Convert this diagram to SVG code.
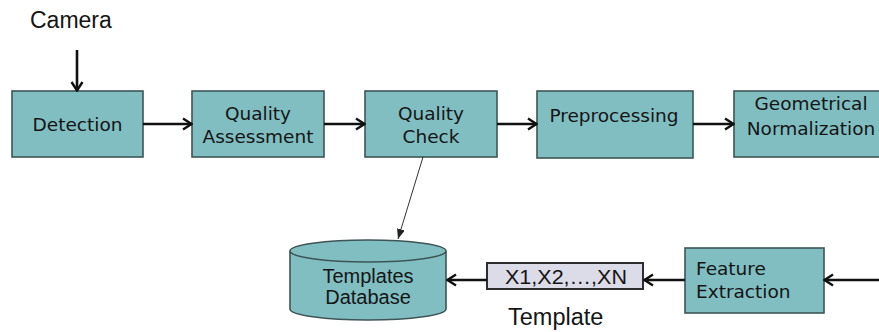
<svg xmlns="http://www.w3.org/2000/svg" width="879" height="332" viewBox="0 0 879 332">
  <defs>
    <style>
      .box { fill: #80bec2; stroke: #3e5556; stroke-width: 1.6; }
      .lbl { font-family: "DejaVu Sans", Verdana, sans-serif; font-size: 18.5px; fill: #151515; text-anchor: middle; }
      .lbl-l { font-family: "DejaVu Sans", Verdana, sans-serif; font-size: 18.5px; fill: #151515; }
      .ar { font-family: "Liberation Sans", Arial, sans-serif; fill: #151515; }
      .flow { fill: none; stroke: #111; stroke-width: 2.6; marker-end: url(#chev); }
      .thin { fill: none; stroke: #333; stroke-width: 1; marker-end: url(#tip); }
    </style>
    <marker id="chev" viewBox="0 0 12 14" refX="11" refY="7" markerWidth="12" markerHeight="14" markerUnits="userSpaceOnUse" orient="auto">
      <path d="M2,1.5 L10.5,7 L2,12.5" fill="none" stroke="#111" stroke-width="2.4" stroke-linejoin="miter"/>
    </marker>
    <marker id="tip" viewBox="0 0 10 8" refX="10" refY="4" markerWidth="10" markerHeight="8" markerUnits="userSpaceOnUse" orient="auto">
      <path d="M0,0 L10,4 L0,8 Z" fill="#222"/>
    </marker>
  </defs>

  <rect width="879" height="332" fill="#ffffff"/>

  <text class="ar" x="30" y="28" font-size="23">Camera</text>
  <text class="ar" x="508" y="325" font-size="23.5">Template</text>

  <g id="detection">
    <rect class="box" x="12" y="91" width="131" height="66"/>
    <text class="lbl" x="77.5" y="131">Detection</text>
  </g>
  <g id="quality-assessment">
    <rect class="box" x="192" y="91" width="132" height="66"/>
    <text class="lbl" x="258" y="120">Quality</text>
    <text class="lbl" x="258" y="143">Assessment</text>
  </g>
  <g id="quality-check">
    <rect class="box" x="365" y="91" width="132" height="66"/>
    <text class="lbl" x="431" y="120">Quality</text>
    <text class="lbl" x="431" y="143">Check</text>
  </g>
  <g id="preprocessing">
    <rect class="box" x="537" y="91" width="156" height="67"/>
    <text class="lbl" x="614" y="122">Preprocessing</text>
  </g>
  <g id="geometrical-normalization">
    <rect class="box" x="734" y="91" width="154" height="66"/>
    <text class="lbl" x="811" y="110">Geometrical</text>
    <text class="lbl" x="811" y="135">Normalization</text>
  </g>
  <g id="feature-extraction">
    <rect class="box" x="685" y="248" width="139" height="65"/>
    <text class="lbl-l" x="696" y="275">Feature</text>
    <text class="lbl-l" x="696" y="298">Extraction</text>
  </g>
  <g id="template-vector">
    <rect x="487" y="263" width="156" height="26" fill="#dcdce8" stroke="#2e2e2e" stroke-width="2"/>
    <text class="ar" x="505" y="284" font-size="19.5" textLength="122" lengthAdjust="spacingAndGlyphs">X1,X2,…,XN</text>
  </g>
  <g id="templates-database">
    <path class="box" d="M290,251 L290,309 A78,11 0 0 0 446,309 L446,251"/>
    <ellipse class="box" cx="368" cy="251" rx="78" ry="11"/>
    <text class="ar" x="368" y="283" font-size="20" text-anchor="middle">Templates</text>
    <text class="ar" x="368" y="304" font-size="20" text-anchor="middle">Database</text>
  </g>

  <g id="connectors">
    <path class="flow" d="M77,50 L77,91"/>
    <path class="flow" d="M143,124 L192,124"/>
    <path class="flow" d="M324,124 L365,124"/>
    <path class="flow" d="M497,124 L537,124"/>
    <path class="flow" d="M693,124 L734,124"/>
    <path class="flow" d="M879,280 L824,280"/>
    <path class="flow" d="M685,280 L644,280"/>
    <path class="flow" d="M487,280 L447,280"/>
    <path class="thin" d="M423,157 L398,239"/>
  </g>
</svg>
